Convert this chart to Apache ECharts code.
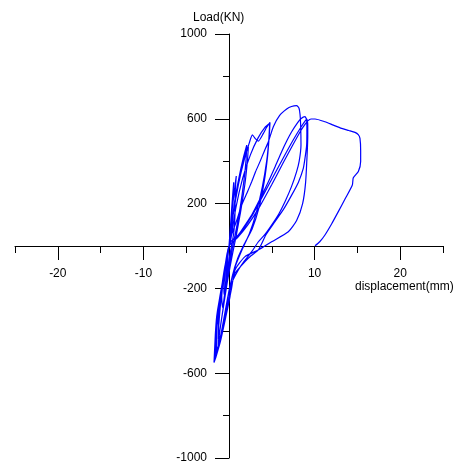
<!DOCTYPE html>
<html><head><meta charset="utf-8">
<script src="https://cdn.jsdelivr.net/npm/echarts@6/dist/echarts.min.js"></script>
<style>html,body{margin:0;padding:0;background:#fff}#c{width:460px;height:468px}</style>
</head><body><div id="c"></div>
<script>
// tick labels
const xTickLabels = [-20, -10, 10, 20];
const yTickLabels = [-1000, -600, -200, 200, 600, 1000];

// load history: [displacement (mm), load (KN)]
const cycle1 = [[0,0],[0.15,80],[0.3,170],[0.45,250],[0.55,300],[0.45,230],[0.25,120],[0.05,20],[-0.15,-60],[-0.35,-150],[-0.55,-230],[-0.6,-200],[-0.4,-110],[-0.15,-20],[0,0]];
const cycle2 = [[0.2,100],[0.45,200],[0.7,285],[0.85,330],[0.72,250],[0.7,150],[0.55,60],[0.2,-20],[-0.1,-90],[-0.4,-190],[-0.75,-290],[-0.85,-240],[-0.6,-140],[-0.25,-40],[0,0]];
const cycle3 = [[0.3,100],[0.7,220],[1.2,330],[1.7,420],[2.07,476],[2.0,410],[1.75,310],[1.3,180],[0.8,70],[0.3,-30],[-0.2,-150],[-0.6,-270],[-1.0,-380],[-1.25,-440],[-1.2,-350],[-0.85,-220],[-0.4,-90],[0.05,10]];
const cycle4 = [[0.4,130],[0.9,260],[1.5,380],[2.0,450],[2.26,468],[2.15,400],[1.85,290],[1.35,160],[0.85,50],[0.35,-50],[-0.2,-170],[-0.7,-300],[-1.1,-410],[-1.25,-483],[-1.2,-380],[-0.9,-240],[-0.45,-100],[0.1,20]];
const cycle5 = [[0.5,150],[1.1,290],[1.8,410],[2.4,490],[2.73,524],[3.1,505],[3.43,495],[4.0,530],[4.4,560],[4.79,583],[4.7,520],[4.5,420],[4.1,300],[3.5,180],[2.7,80],[1.8,10],[1.0,-60],[0.4,-140],[-0.2,-260],[-0.8,-390],[-1.3,-480],[-1.45,-500],[-1.4,-380],[-1.0,-240],[-0.5,-100],[0.2,30]];
const cycle6 = [[0.8,180],[1.6,320],[2.5,430],[3.4,510],[4.2,560],[4.75,578],[4.65,500],[4.4,400],[3.9,280],[3.2,160],[2.4,60],[1.5,-20],[0.7,-100],[0.1,-190],[-0.5,-320],[-1.1,-450],[-1.5,-510],[-1.45,-400],[-1.0,-250],[-0.5,-110],[0.2,30]];
const cycle7 = [[0.3,52],[0.9,120],[1.48,193],[2.1,250],[2.65,303],[3.1,350],[3.62,398],[4.1,445],[4.6,492],[5.18,563],[5.9,615],[6.74,646],[7.3,658],[7.9,662],[8.18,650],[8.3,620],[8.37,571],[8.41,476],[8.2,400],[7.9,351],[7.3,280],[6.54,209],[5.8,150],[4.98,99],[4.2,55],[3.43,20],[2.65,-27],[1.8,-70],[1.09,-113],[0.31,-176],[0.12,-239],[-0.4,-340],[-1.0,-450],[-1.5,-520],[-1.75,-550],[-1.6,-420],[-1.44,-333],[-1.2,-270],[-0.86,-208],[-0.5,-120],[-0.08,-19],[0.2,20]];
const cycle8 = [[1.09,52],[1.9,100],[2.65,146],[3.6,220],[4.6,303],[5.4,375],[6.15,445],[6.8,500],[7.32,539],[7.9,575],[8.4,600],[8.88,610],[9.07,594],[9.1,540],[9.07,476],[8.9,420],[8.68,366],[8.1,300],[7.32,240],[6.4,175],[5.37,115],[4.3,52],[3.43,-19],[2.6,-45],[1.87,-74],[0.7,-129],[0.1,-230],[-0.5,-340],[-1.1,-450],[-1.6,-530],[-1.55,-430],[-1.3,-300],[-0.9,-200],[-0.4,-90],[0,0]];
const cycle8b = [[0.5,20],[1.5,70],[2.8,150],[4.0,240],[5.2,330],[6.4,420],[7.5,500],[8.4,560],[8.9,590],[9.1,598],[9.2,575],[9.2,520],[9.15,453],[8.95,300],[8.6,200],[7.9,120],[6.93,67],[4.98,20],[3.42,-19],[1.87,-50],[0.7,-113],[0.3,-200],[-0.3,-320],[-0.9,-430],[-1.5,-500],[-1.45,-400],[-1.1,-270],[-0.6,-130],[0,0]];
const cycle9 = [[1.0,40],[2.2,100],[3.5,180],[5.0,290],[6.3,390],[7.5,480],[8.4,545],[8.9,575],[9.2,590],[9.58,599],[10.05,599],[11.21,586],[12.2,570],[13.16,555],[14.0,545],[14.72,536],[15.1,525],[15.3,508],[15.38,450],[15.38,398],[15.11,351],[14.52,322],[14.41,288],[13.6,225],[12.77,162],[12.0,105],[11.21,52],[10.6,20],[10.05,1]];

const loops = [cycle1, cycle2, cycle3, cycle4, cycle5, cycle6, cycle7, cycle8, cycle8b, cycle9];
const path = [].concat(...loops);

const font = 'Liberation Sans, Arial, sans-serif';
const chart = echarts.init(document.getElementById('c'), null, {renderer: 'canvas'});
chart.setOption({
  animation: false,
  grid: {left: 15, right: 17, top: 34, bottom: 10, containLabel: false, outerBoundsMode: 'none'},
  xAxis: {
    type: 'value', min: -25, max: 25, interval: 10, position: 'bottom', offset: -212,
    axisLine: {show: true, onZero: false, lineStyle: {color: '#000', width: 1}},
    axisTick: {show: true, length: 7, lineStyle: {color: '#000', width: 1}},
    minorTick: {show: true, splitNumber: 2, length: 14, lineStyle: {color: '#000', width: 1}},
    axisLabel: {show: true, customValues: xTickLabels, margin: 22, color: '#000', fontSize: 12, fontFamily: font,
      formatter: v => String(v)},
    splitLine: {show: false}, minorSplitLine: {show: false}
  },
  yAxis: {
    type: 'value', min: -1000, max: 1000, interval: 400, position: 'left', offset: -214,
    axisLine: {show: true, onZero: false, lineStyle: {color: '#000', width: 1}},
    axisTick: {show: true, length: 14, lineStyle: {color: '#000', width: 1}},
    minorTick: {show: true, splitNumber: 2, length: 6, lineStyle: {color: '#000', width: 1}},
    axisLabel: {show: true, customValues: yTickLabels, margin: 22, color: '#000', fontSize: 12, fontFamily: font,
      formatter: v => String(v)},
    splitLine: {show: false}, minorSplitLine: {show: false}
  },
  graphic: [
    {type: 'text', left: 193, top: 12, style: {text: 'Load(KN)', font: '12px ' + font, fill: '#000'}},
    {type: 'text', left: 355, top: 281, style: {text: 'displacement(mm)', font: '12px ' + font, fill: '#000'}}
  ],
  series: [{
    type: 'line', data: path,
    showSymbol: false, smooth: 0.2,
    lineStyle: {color: '#0000ff', width: 1.2}
  }]
});
</script>
</body></html>
